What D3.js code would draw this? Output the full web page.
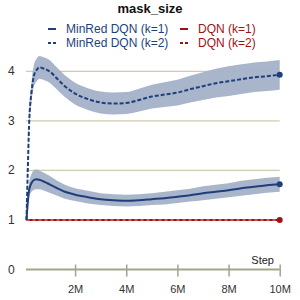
<!DOCTYPE html>
<html>
<head>
<meta charset="utf-8">
<script src="https://cdn.jsdelivr.net/npm/d3@7"></script>
<style>
  body { margin: 0; background: #fff; }
  svg { font-family: "Liberation Sans", Arial, sans-serif; }
</style>
</head>
<body>
<div class="chart"></div>
<script>
// data (steps in millions)
const steps = [0.1, 0.15, 0.2, 0.3, 0.4, 0.5, 0.6, 0.8, 1.0, 1.3, 1.6, 2.0, 2.5, 3.0, 3.5, 4.0, 4.5, 5.0, 5.5, 6.0, 6.5, 7.0, 7.5, 8.0, 8.5, 9.0, 9.5, 10.0];
const minredK2 = [1.0, 2.0, 2.9, 3.6, 3.93, 4.03, 4.08, 4.05, 4.0, 3.85, 3.7, 3.55, 3.44, 3.37, 3.35, 3.36, 3.42, 3.49, 3.53, 3.57, 3.64, 3.7, 3.76, 3.8, 3.84, 3.88, 3.9, 3.93];
const minredK2Std = [0, 0.1, 0.15, 0.2, 0.22, 0.23, 0.23, 0.23, 0.23, 0.22, 0.22, 0.22, 0.22, 0.22, 0.22, 0.22, 0.23, 0.24, 0.25, 0.26, 0.27, 0.28, 0.29, 0.3, 0.3, 0.3, 0.3, 0.3];
const minredK1 = [1.0, 1.35, 1.6, 1.75, 1.81, 1.82, 1.81, 1.77, 1.72, 1.64, 1.57, 1.51, 1.46, 1.42, 1.40, 1.39, 1.40, 1.42, 1.44, 1.47, 1.5, 1.54, 1.57, 1.6, 1.64, 1.67, 1.7, 1.72];
const minredK1Std = [0, 0.08, 0.14, 0.18, 0.2, 0.2, 0.19, 0.18, 0.17, 0.15, 0.14, 0.13, 0.13, 0.12, 0.12, 0.12, 0.12, 0.12, 0.13, 0.13, 0.13, 0.14, 0.14, 0.14, 0.15, 0.15, 0.15, 0.15];
const dqnK1 = steps.map(() => 1.0);
const dqnK2 = steps.map(() => 1.0);
const xTicks = [2, 4, 6, 8, 10];
const yTicks = [0, 1, 2, 3, 4];

const blue = "#1e3f7c";
const red = "#9e1212";

const width = 300;
const height = 300;

const svg = d3.select(".chart")
  .append("svg")
  .attr("width", width)
  .attr("height", height);

const x = d3.scaleLinear()
  .domain([0.1, 10])
  .range([26.5, 279.7]);

const y = d3.scaleLinear()
  .domain([0, 4])
  .range([269.5, 71.3]);

// title
svg.append("text")
  .attr("x", 150).attr("y", 13)
  .attr("text-anchor", "middle")
  .attr("font-size", "13px")
  .attr("font-weight", "bold")
  .attr("fill", "#111")
  .text("mask_size");

// legend
const legend = [
  { name: "MinRed DQN (k=1)", color: blue, dash: null, x: 48, y: 29 },
  { name: "MinRed DQN (k=2)", color: blue, dash: "3,2", x: 48, y: 43 },
  { name: "DQN (k=1)", color: red, dash: null, x: 180, y: 29 },
  { name: "DQN (k=2)", color: red, dash: "3,2", x: 180, y: 43 }
];
const lg = svg.append("g").selectAll("g").data(legend).join("g");
lg.append("line")
  .attr("x1", d => d.x).attr("x2", d => d.x + 8)
  .attr("y1", d => d.y).attr("y2", d => d.y)
  .attr("stroke", d => d.color)
  .attr("stroke-width", 2)
  .attr("stroke-dasharray", d => d.dash);
lg.append("text")
  .attr("x", d => d.x + 18).attr("y", d => d.y + 4)
  .attr("font-size", "12px")
  .attr("fill", d => d.color)
  .text(d => d.name);

// grid
svg.append("g")
  .selectAll("line")
  .data(yTicks.filter(t => t > 0))
  .join("line")
  .attr("x1", x(0.1) - 0.5).attr("x2", x(10))
  .attr("y1", d => y(d)).attr("y2", d => y(d))
  .attr("stroke", "#cfcbb2")
  .attr("stroke-width", 1.2);

// y labels
svg.append("g")
  .selectAll("text")
  .data(yTicks)
  .join("text")
  .attr("x", 8).attr("y", d => y(d) + 4)
  .attr("font-size", "12px")
  .attr("fill", "#333")
  .text(d => d);

// x axis
const xAxis = g => {
  g.attr("transform", `translate(0,${y(0)})`)
  .call(d3.axisBottom(x).tickValues(xTicks).tickSize(7).tickFormat(d => d + "M"))
  .attr("font-size", "11px")
  .attr("font-family", "Liberation Sans, Arial, sans-serif")
  .call(g => g.select(".domain").remove())
  .call(g => g.selectAll(".tick line").attr("y1", -5).attr("stroke", "#a3a38e").attr("stroke-width", 1.5))
  .call(g => g.selectAll(".tick text").attr("fill", "#333").attr("dy", "1.2em"));
  g.append("line")
    .attr("x1", x(0.1) - 0.5).attr("x2", x(10))
    .attr("stroke", "#a3a38e").attr("stroke-width", 2);
};
svg.append("g").call(xAxis);

svg.append("text")
  .attr("x", 274).attr("y", 264)
  .attr("text-anchor", "end")
  .attr("font-size", "11px")
  .attr("fill", "#222")
  .text("Step");

// series
const series = [
  { vals: dqnK1, std: steps.map(() => 0.02), color: red, band: "#e8a5a5", dash: null },
  { vals: dqnK2, std: null, color: "#c85a5a", band: null, dash: "3,3" },
  { vals: minredK1, std: minredK1Std, color: blue, band: "#a4b1c8", dash: null },
  { vals: minredK2, std: minredK2Std, color: blue, band: "#a4b1c8", dash: "4,2" }
];

const area = d3.area()
  .x((d, i) => x(steps[i]))
  .y0(d => y(d[0] - d[1]))
  .y1(d => y(d[0] + d[1]))
  .curve(d3.curveMonotoneX);

const line = d3.line()
  .x((d, i) => x(steps[i]))
  .y(d => y(d))
  .curve(d3.curveMonotoneX);

series.filter(s => s.std).forEach(s => {
  svg.append("path")
    .datum(s.vals.map((v, i) => [v, s.std[i]]))
    .attr("d", area)
    .attr("fill", s.band)
    .attr("opacity", 0.95);
});

series.forEach(s => {
  svg.append("path")
    .datum(s.vals)
    .attr("d", line)
    .attr("fill", "none")
    .attr("stroke", s.color)
    .attr("stroke-width", s.dash && s.color === red ? 1 : 2)
    .attr("stroke-dasharray", s.dash);
});

svg.append("g")
  .selectAll("circle")
  .data([series[0], series[2], series[3]])
  .join("circle")
  .attr("cx", x(10))
  .attr("cy", d => y(d.vals[d.vals.length - 1]))
  .attr("r", 3)
  .attr("fill", d => d.color);
</script>
</body>
</html>
